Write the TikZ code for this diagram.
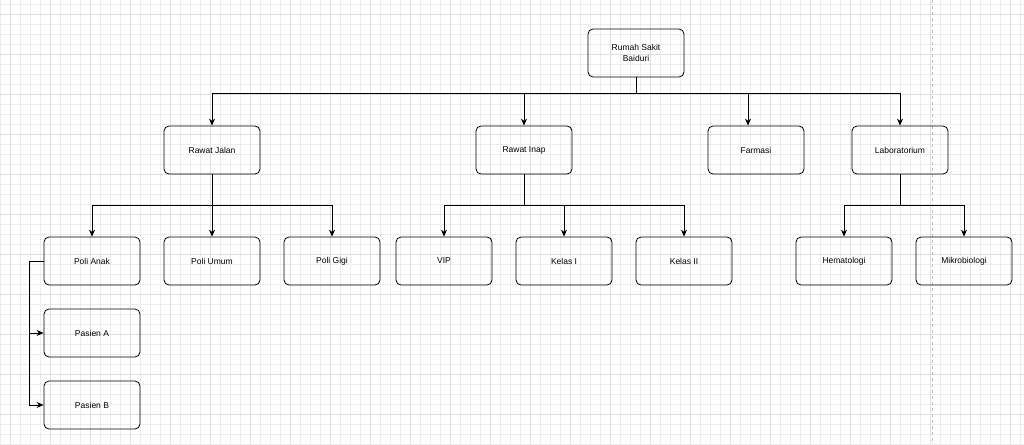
\documentclass[tikz,border=0pt]{standalone}
\usepackage{fontspec}
\setmainfont{Liberation Sans}
\usetikzlibrary{arrows.meta}

\begin{document}
\begin{tikzpicture}[
        x=1pt,y=-1pt,
        box/.style={draw,rounded corners=5pt,thick,minimum width=96pt,minimum height=48pt,
            align=center,font=\fontsize{8.5}{11}\selectfont},
        edge/.style={-{Stealth[length=7pt,width=6pt]},thick},
        line/.style={thick}
    ]
        % Background grid
        \useasboundingbox (0,0) rectangle (1024,444);
        \fill[white] (0,0) rectangle (1024,444);
        \foreach \g in {0,10,...,1020} {\draw[black!7,line width=0.4pt] (\g,0) -- (\g,444);}
        \foreach \g in {4,14,...,444} {\draw[black!7,line width=0.4pt] (0,\g) -- (1024,\g);}
        \foreach \g in {10,50,...,1010} {\draw[black!12,line width=0.5pt] (\g,0) -- (\g,444);}
        \foreach \g in {14,54,...,434} {\draw[black!12,line width=0.5pt] (0,\g) -- (1024,\g);}
        \draw[black!25,dashed] (932,0) -- (932,444);

        % Define the nodes
        \node[box] (rs) at (636,53) {Rumah Sakit\\Baiduri};
        \node[box] (rj) at (212,150) {Rawat Jalan};
        \node[box] (ri) at (524,150) {Rawat Inap};
        \node[box] (fa) at (756,150) {Farmasi};
        \node[box] (lab) at (900,150) {Laboratorium};
        \node[box] (anak) at (92,261) {Poli Anak};
        \node[box] (umum) at (212,261) {Poli Umum};
        \node[box] (gigi) at (332,261) {Poli Gigi};
        \node[box] (vip) at (444,261) {VIP};
        \node[box] (k1) at (564,261) {Kelas I};
        \node[box] (k2) at (684,261) {Kelas II};
        \node[box] (hem) at (844,261) {Hematologi};
        \node[box] (mik) at (964,261) {Mikrobiologi};
        \node[box] (pa) at (92,333) {Pasien A};
        \node[box] (pb) at (92,405) {Pasien B};

        % Branch points
        \coordinate (busRS) at (636,93);
        \coordinate (busRJ) at (212,205);
        \coordinate (busRI) at (524,205);
        \coordinate (busLab) at (900,205);
        \coordinate (busAnak) at (29,261);

        % Draw the connectors
        \draw[line] (rs) -- (busRS);
        \draw[edge] (busRS) -| (rj);
        \draw[edge] (busRS) -| (ri);
        \draw[edge] (busRS) -| ([xshift=-8pt]fa.north);
        \draw[edge] (busRS) -| (lab);

        \draw[line] (rj) -- (busRJ);
        \draw[edge] (busRJ) -| (anak);
        \draw[edge] (busRJ) -- (umum);
        \draw[edge] (busRJ) -| (gigi);

        \draw[line] (ri) -- (busRI);
        \draw[edge] (busRI) -| (vip);
        \draw[edge] (busRI) -| (k1);
        \draw[edge] (busRI) -| (k2);

        \draw[line] (lab) -- (busLab);
        \draw[edge] (busLab) -| (hem);
        \draw[edge] (busLab) -| (mik);

        \draw[line] (anak.west) -- (busAnak);
        \draw[edge] (busAnak) |- (pa);
        \draw[edge] (busAnak) |- (pb);
    \end{tikzpicture}
\end{document}
